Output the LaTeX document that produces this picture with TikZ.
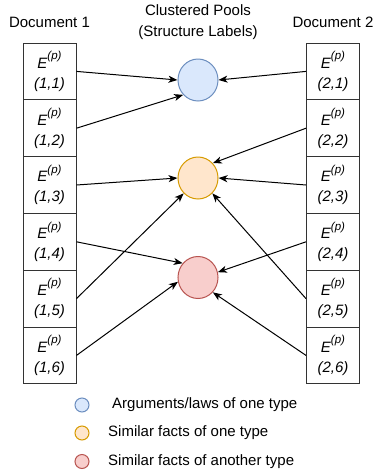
\documentclass[tikz,border=0pt]{standalone}
\usepackage{fontspec}
\setmainfont{Liberation Sans}
\usepackage{tikz}
\usetikzlibrary{arrows.meta}
\usetikzlibrary{shapes.geometric}
\usetikzlibrary{positioning}
\definecolor{bluefill}{HTML}{DAE8FC}
\definecolor{blueline}{HTML}{6C8EBF}
\definecolor{orangefill}{HTML}{FFE6CC}
\definecolor{orangeline}{HTML}{D79B00}
\definecolor{redfill}{HTML}{F8CECC}
\definecolor{redline}{HTML}{B85450}
\newcommand{\pexp}{\raisebox{8.5pt}{\fontsize{11.5}{12}\selectfont\itshape(p)}}
\tikzset{ebox/.style={rectangle,draw=black!80,line width=1pt,minimum width=53pt,minimum height=56.8pt,inner sep=0pt,align=center,font=\fontsize{15}{20}\selectfont\itshape}}
\tikzset{pool/.style={ellipse,line width=1pt,minimum width=40pt,minimum height=42pt,inner sep=0pt}}
\tikzset{lpool/.style={ellipse,line width=1pt,minimum width=14pt,minimum height=14pt,inner sep=0pt}}
\tikzset{lbl/.style={font=\fontsize{15}{21}\selectfont,align=center,inner sep=0pt}}
\tikzset{feed/.style={line width=1pt,-{Stealth[length=9pt,width=7pt,inset=2.5pt]}}}

\begin{document}
\begin{tikzpicture}[x=1pt,y=-1pt]
\useasboundingbox (0,0) rectangle (375,475);

 \node[lbl] (D1) at (49.5, 22) {Document 1};
 \node[lbl] (D2) at (333, 22) {Document 2};
 \node[lbl] (CP) at (198, 22.5) {Clustered Pools\\(Structure Labels)};

\foreach \k in {1, ..., 6}{
             \pgfmathsetmacro{\yy}{43+56.8*(\k-0.5)}
             \node[ebox] (L\k) at (49.5, \yy) {E\pexp\\(1,\k)};
             \node[ebox] (R\k) at (333, \yy) {E\pexp\\(2,\k)};
             }

 \node[pool, fill=bluefill, draw=blueline] (PB) at (198, 80) {};
 \node[pool, fill=orangefill, draw=orangeline] (PO) at (198, 178) {};
 \node[pool, fill=redfill, draw=redline] (PR) at (198, 277.5) {};

\foreach \k/\p/\a in {1/PB/180, 2/PB/225, 3/PO/180, 4/PR/137, 5/PO/227, 6/PR/192}{
            \draw[feed] (L\k.east) -- (\p.\a);
             }
\foreach \k/\p/\a in {1/PB/0, 2/PO/45, 3/PO/0, 4/PR/15, 5/PO/313, 6/PR/315}{
            \draw[feed] (R\k.west) -- (\p.\a);
             }

 % legend
 \node[lpool, fill=bluefill, draw=blueline] (K1) at (82, 405) {};
 \node[lpool, fill=orangefill, draw=orangeline] (K2) at (82, 433) {};
 \node[lpool, fill=redfill, draw=redline] (K3) at (82, 461.5) {};
 \node[lbl, anchor=west] (T1) at (112, 405) {Arguments/laws of one type};
 \node[lbl, anchor=west] (T2) at (108, 433) {Similar facts of one type};
 \node[lbl, anchor=west] (T3) at (108, 461.5) {Similar facts of another type};

\end{tikzpicture}
\end{document}
